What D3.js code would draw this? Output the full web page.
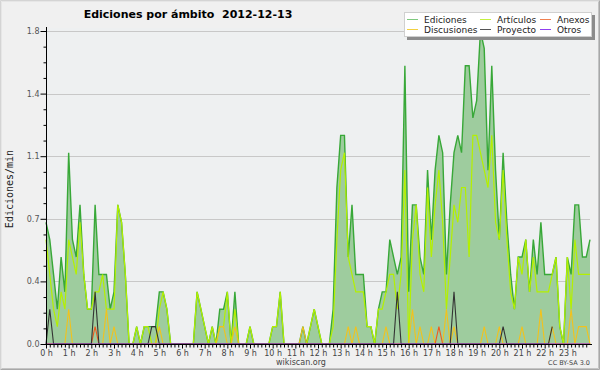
<!DOCTYPE html>
<html><head><meta charset="utf-8">
<script src="https://cdn.jsdelivr.net/npm/d3@7"></script>
<style>body{margin:0;background:#f0f0f0}svg{display:block}</style>
</head><body><svg id="chart" width="600" height="370"></svg>
<script>
const titleText = "Ediciones por ámbito  2012-12-13";
const yAxisLabel = "Ediciones/min";
const stepMinutes = 10;
const ediciones = [0.7,0.6,0.4,0.2,0.5,0.3,1.1,0.6,0.5,0.8,0.4,0.2,0.2,0.8,0.4,0.4,0.4,0.2,0.3,0.8,0.7,0.4,0,0,0.1,0,0.1,0.1,0.1,0.1,
0.3,0.3,0.2,0,0,0,0,0,0,0,0.3,0.2,0.1,0,0.1,0,0.2,0.2,0.3,0,0.3,0,0,0,0.1,0,0,0,0,0,
0.1,0.1,0.3,0,0,0,0,0,0.1,0,0.1,0.2,0.1,0,0,0,0.2,0.9,1.2,1.2,0.5,0.8,0.4,0.4,0.4,0.1,0.1,0,0.2,0.3,
0.3,0.6,0.5,0.4,0.5,1.6,0.3,0.8,0.8,0.5,0.4,1.0,0.6,1.0,1.2,1.1,0.4,0.8,1.1,1.2,1.1,1.6,1.6,1.3,1.4,1.8,1.7,1.0,1.6,1.0,
0.6,1.1,0.7,0.4,0.2,0.5,0.5,0.6,0.3,0.6,0.4,0.7,0.4,0.4,0.4,0.5,0.1,0,0.5,0.4,0.8,0.8,0.5,0.5,0.6];
const articulos = [0.6,0.4,0.2,0.1,0.3,0.2,0.6,0.5,0.4,0.7,0.4,0.2,0.2,0.3,0.3,0.4,0.2,0.2,0.2,0.8,0.7,0.4,0,0,0.1,0,0.1,0.1,0,0,
0.2,0.3,0.2,0,0,0,0,0,0,0,0.3,0.2,0.1,0,0.1,0,0.1,0.1,0.3,0,0.2,0,0,0,0.1,0,0,0,0,0,
0.1,0.1,0.3,0,0,0,0,0,0,0,0.1,0.2,0.1,0,0,0,0.1,0.6,1.0,1.1,0.5,0.4,0.3,0.3,0.3,0.1,0.1,0,0.2,0.2,
0.3,0.4,0.4,0.2,0.4,1.0,0,0.6,0.8,0.4,0.3,0.9,0.5,0.8,1.0,0.7,0.2,0.5,0.8,0.7,0.9,0.9,0.5,1.2,1.2,1.1,1.0,0.9,1.2,0.7,
0.6,1.0,0.6,0.3,0.2,0.5,0.4,0.6,0.3,0.5,0.3,0.3,0.3,0.3,0.4,0.5,0.1,0,0.5,0.2,0.6,0.4,0.4,0.4,0.4];
const anexos = [0,0,0,0,0,0,0,0,0,0,0,0,0,0.1,0,0,0,0,0,0,0,0,0,0,0,0,0,0,0,0,
0,0,0,0,0,0,0,0,0,0,0,0,0,0,0,0,0,0,0,0,0,0,0,0,0,0,0,0,0,0,
0,0,0,0,0,0,0,0,0,0,0,0,0,0,0,0,0,0,0,0,0,0,0,0,0,0,0,0,0,0,
0,0,0,0,0,0,0,0,0,0,0,0,0,0,0.1,0,0,0,0,0,0,0,0,0,0,0,0,0,0,0,
0,0,0,0,0,0,0,0,0,0,0,0,0,0,0,0,0,0,0,0,0,0,0,0,0];
const discusiones = [0,0,0,0,0,0,0.2,0,0,0,0,0,0,0,0,0,0.2,0,0.1,0,0,0,0,0,0,0,0,0,0,0,
0.1,0,0,0,0,0,0,0,0,0,0,0,0,0,0,0,0.1,0.1,0,0,0.1,0,0,0,0,0,0,0,0,0,
0,0,0,0,0,0,0,0,0.1,0,0,0,0,0,0,0,0,0,0,0,0.1,0,0.1,0,0,0,0,0,0,0,
0.1,0,0,0,0,0,0,0.2,0,0.1,0,0,0.1,0,0,0,0.2,0,0.1,0,0,0,0,0,0,0,0.1,0,0,0,
0.1,0,0,0,0,0,0.1,0,0,0,0,0.2,0,0,0.1,0,0,0,0,0.2,0,0.1,0.1,0.1,0];
const proyecto = [0,0.2,0,0,0,0,0,0,0,0,0,0,0,0.3,0,0,0,0,0,0,0,0,0,0,0,0,0,0,0.1,0.1,
0,0,0,0,0,0,0,0,0,0,0,0,0,0,0,0,0,0,0,0,0,0,0,0,0,0,0,0,0,0,
0,0,0,0,0,0,0,0,0,0,0,0,0,0,0,0,0,0,0,0,0,0,0,0,0,0,0,0,0,0,
0,0,0,0.3,0,0,0,0,0,0,0,0,0,0,0,0,0,0,0.3,0,0,0,0,0,0,0,0,0,0,0,
0,0.1,0,0,0,0,0,0,0,0,0,0,0,0,0.1];
const otros = [0,0,0,0,0,0,0,0,0,0,0,0,0,0,0,0,0,0,0,0,0,0,0,0,0,0,0,0,0,0,
0,0,0,0,0,0,0,0,0,0,0,0,0,0,0,0,0,0,0,0,0,0,0,0,0,0,0,0,0,0,
0,0,0,0,0,0,0,0,0,0,0,0,0,0,0,0,0,0,0,0,0,0,0,0,0,0,0,0,0,0,
0,0,0,0,0,0,0,0,0,0,0,0,0,0,0,0,0,0,0,0,0,0,0,0,0,0,0,0,0,0,
0,0,0,0,0,0,0,0,0,0,0,0,0,0,0,0,0,0,0,0,0,0,0,0,0];
const yTickValues = [0, 0.36, 0.72, 1.08, 1.44, 1.8];
const yTickLabels = ["0.0","0.4","0.7","1.1","1.4","1.8"];
const hourLabels = ["0 h","1 h","2 h","3 h","4 h","5 h","6 h","7 h","8 h","9 h","10 h","11 h","12 h","13 h","14 h","15 h","16 h","17 h","18 h","19 h","20 h","21 h","22 h","23 h"];
const legendNames = ["Ediciones","Artículos","Anexos","Discusiones","Proyecto","Otros"];
const legendColors = ["#7fc97f","#c4f040","#f08050","#f2d040","#555555","#9040f0"];

const svg = d3.select("#chart");
const W = 600, H = 370;
const pLeft = 46, pRight = 590, pTop = 31, pBottom = 344;
const x = d3.scaleLinear().domain([0, 1440]).range([pLeft, pRight]);
const y = d3.scaleLinear().domain([0, 1.8]).range([pBottom, pTop]);

// background and frame
svg.append("rect").attr("width", W).attr("height", H).attr("fill", "#f0f0f0");
svg.append("rect").attr("x", pLeft).attr("y", pTop - 3).attr("width", pRight - pLeft).attr("height", pBottom - pTop + 3).attr("fill", "#eef0f1");
svg.append("path").attr("d", `M0.5,${H-0.5}V0.5H${W-0.5}`).attr("fill","none").attr("stroke","#d4d4d4");
svg.append("path").attr("d", `M1.5,${H-1.5}V1.5H${W-1.5}`).attr("fill","none").attr("stroke","#e6e6e6");
svg.append("path").attr("d", `M0.5,${H-0.5}H${W-0.5}V0.5`).attr("fill","none").attr("stroke","#a8a8a8");
svg.append("path").attr("d", `M1.5,${H-1.5}H${W-1.5}V1.5`).attr("fill","none").attr("stroke","#c4c4c4");

// grid
svg.append("g").selectAll("line").data(yTickValues.slice(1)).join("line")
  .attr("x1", pLeft).attr("x2", pRight)
  .attr("y1", d => Math.round(y(d)) + 0.5).attr("y2", d => Math.round(y(d)) + 0.5)
  .attr("stroke", "#c8c8c8").attr("stroke-width", 1);

const xi = (d, i) => x(i * stepMinutes);
const area = d3.area().x(xi).y0(y(0)).y1(d => y(d));
const line = d3.line().x(xi).y(d => y(d));

svg.append("path").datum(ediciones).attr("d", area).attr("fill", "#9ecc9e");
const series = [
  {data: ediciones, color: "#38a838", w: 1.4},
  {data: articulos, color: "#b4f000", w: 1.2},
  {data: discusiones, color: "#f2c21c", w: 1.1},
  {data: anexos, color: "#f05a1e", w: 1.1},
  {data: proyecto, color: "#333333", w: 1.1},
  {data: otros, color: "#8a3cf0", w: 1.1}
];
series.forEach(s => {
  svg.append("path").datum(s.data).attr("d", line)
    .attr("fill", "none").attr("stroke", s.color).attr("stroke-width", s.w);
});

// y axis
const yAxis = d3.axisLeft(y).tickValues(yTickValues).tickFormat((d, i) => yTickLabels[i]).tickSize(6).tickPadding(1);
const gy = svg.append("g").attr("transform", `translate(${pLeft + 0.5},0)`).call(yAxis);
gy.select(".domain").remove();
gy.selectAll("line").attr("stroke", "#000");
gy.selectAll("text").attr("font-family", "DejaVu Sans").attr("font-size", 8).attr("fill", "#555");
const yMinor = d3.range(0, 1.8001, 0.09).filter(v => !yTickValues.some(t => Math.abs(t - v) < 1e-6));
const gym = svg.append("g").attr("transform", `translate(${pLeft + 0.5},0)`)
  .call(d3.axisLeft(y).tickValues(yMinor).tickSize(3).tickFormat(""));
gym.select(".domain").remove();
gym.selectAll("line").attr("stroke", "#000");
svg.append("line").attr("x1", pLeft + 0.5).attr("x2", pLeft + 0.5).attr("y1", pTop - 4).attr("y2", pBottom + 1).attr("stroke", "#000");

// x axis
const hourTicks = d3.range(24).map(h => h * 60);
const minorTicks = d3.range(0, 1441, 10).filter(m => m % 60 !== 0);
const gxm = svg.append("g").attr("transform", `translate(0,${pBottom + 0.5})`)
  .call(d3.axisBottom(x).tickValues(minorTicks).tickSize(3).tickFormat(""));
gxm.select(".domain").remove();
gxm.selectAll("line").attr("stroke", "#000");
const gx = svg.append("g").attr("transform", `translate(0,${pBottom + 0.5})`)
  .call(d3.axisBottom(x).tickValues(hourTicks).tickSize(4).tickPadding(2).tickFormat((d, i) => hourLabels[i]));
gx.select(".domain").remove();
gx.selectAll("line").attr("stroke", "#000");
gx.selectAll("text").attr("font-family", "DejaVu Sans").attr("font-size", 8).attr("fill", "#444");
svg.append("line").attr("x1", pLeft).attr("x2", pRight + 2).attr("y1", pBottom + 0.5).attr("y2", pBottom + 0.5).attr("stroke", "#000");

// title
svg.append("text").attr("x", 188).attr("y", 18).attr("text-anchor", "middle")
  .attr("font-family", "DejaVu Sans").attr("font-weight", "bold").attr("font-size", 11)
  .attr("fill", "#000").style("white-space", "pre").text(titleText);

// y label
svg.append("text").attr("transform", "translate(13,189) rotate(-90)").attr("text-anchor", "middle")
  .attr("font-family", "DejaVu Sans Mono").attr("font-size", 10).attr("fill", "#222").text(yAxisLabel);

// footer
svg.append("text").attr("x", 301).attr("y", 365).attr("text-anchor", "middle")
  .attr("font-family", "DejaVu Sans").attr("font-size", 8).attr("fill", "#444").text("wikiscan.org");
svg.append("text").attr("x", 590).attr("y", 365).attr("text-anchor", "end")
  .attr("font-family", "DejaVu Sans").attr("font-size", 6.5).attr("fill", "#444").text("CC BY-SA 3.0");

// legend
const lg = svg.append("g");
lg.append("rect").attr("x", 407).attr("y", 15).attr("width", 188).attr("height", 25).attr("fill", "#8c8c8c");
lg.append("rect").attr("x", 404.5).attr("y", 12.5).attr("width", 187).attr("height", 24).attr("fill", "#fff").attr("stroke", "#d0d0d0");
const colX = [407, 480, 540], rowY = [19, 29];
legendNames.forEach((name, k) => {
  const col = k % 3, row = Math.floor(k / 3);
  lg.append("line").attr("x1", colX[col]).attr("x2", colX[col] + 11)
    .attr("y1", rowY[row] + 0.5).attr("y2", rowY[row] + 0.5).attr("stroke", legendColors[k]);
  lg.append("text").attr("x", colX[col] + 17).attr("y", rowY[row] + 3.5)
    .attr("font-family", "DejaVu Sans").attr("font-size", 9).attr("fill", "#222").text(name);
});
</script></body></html>
